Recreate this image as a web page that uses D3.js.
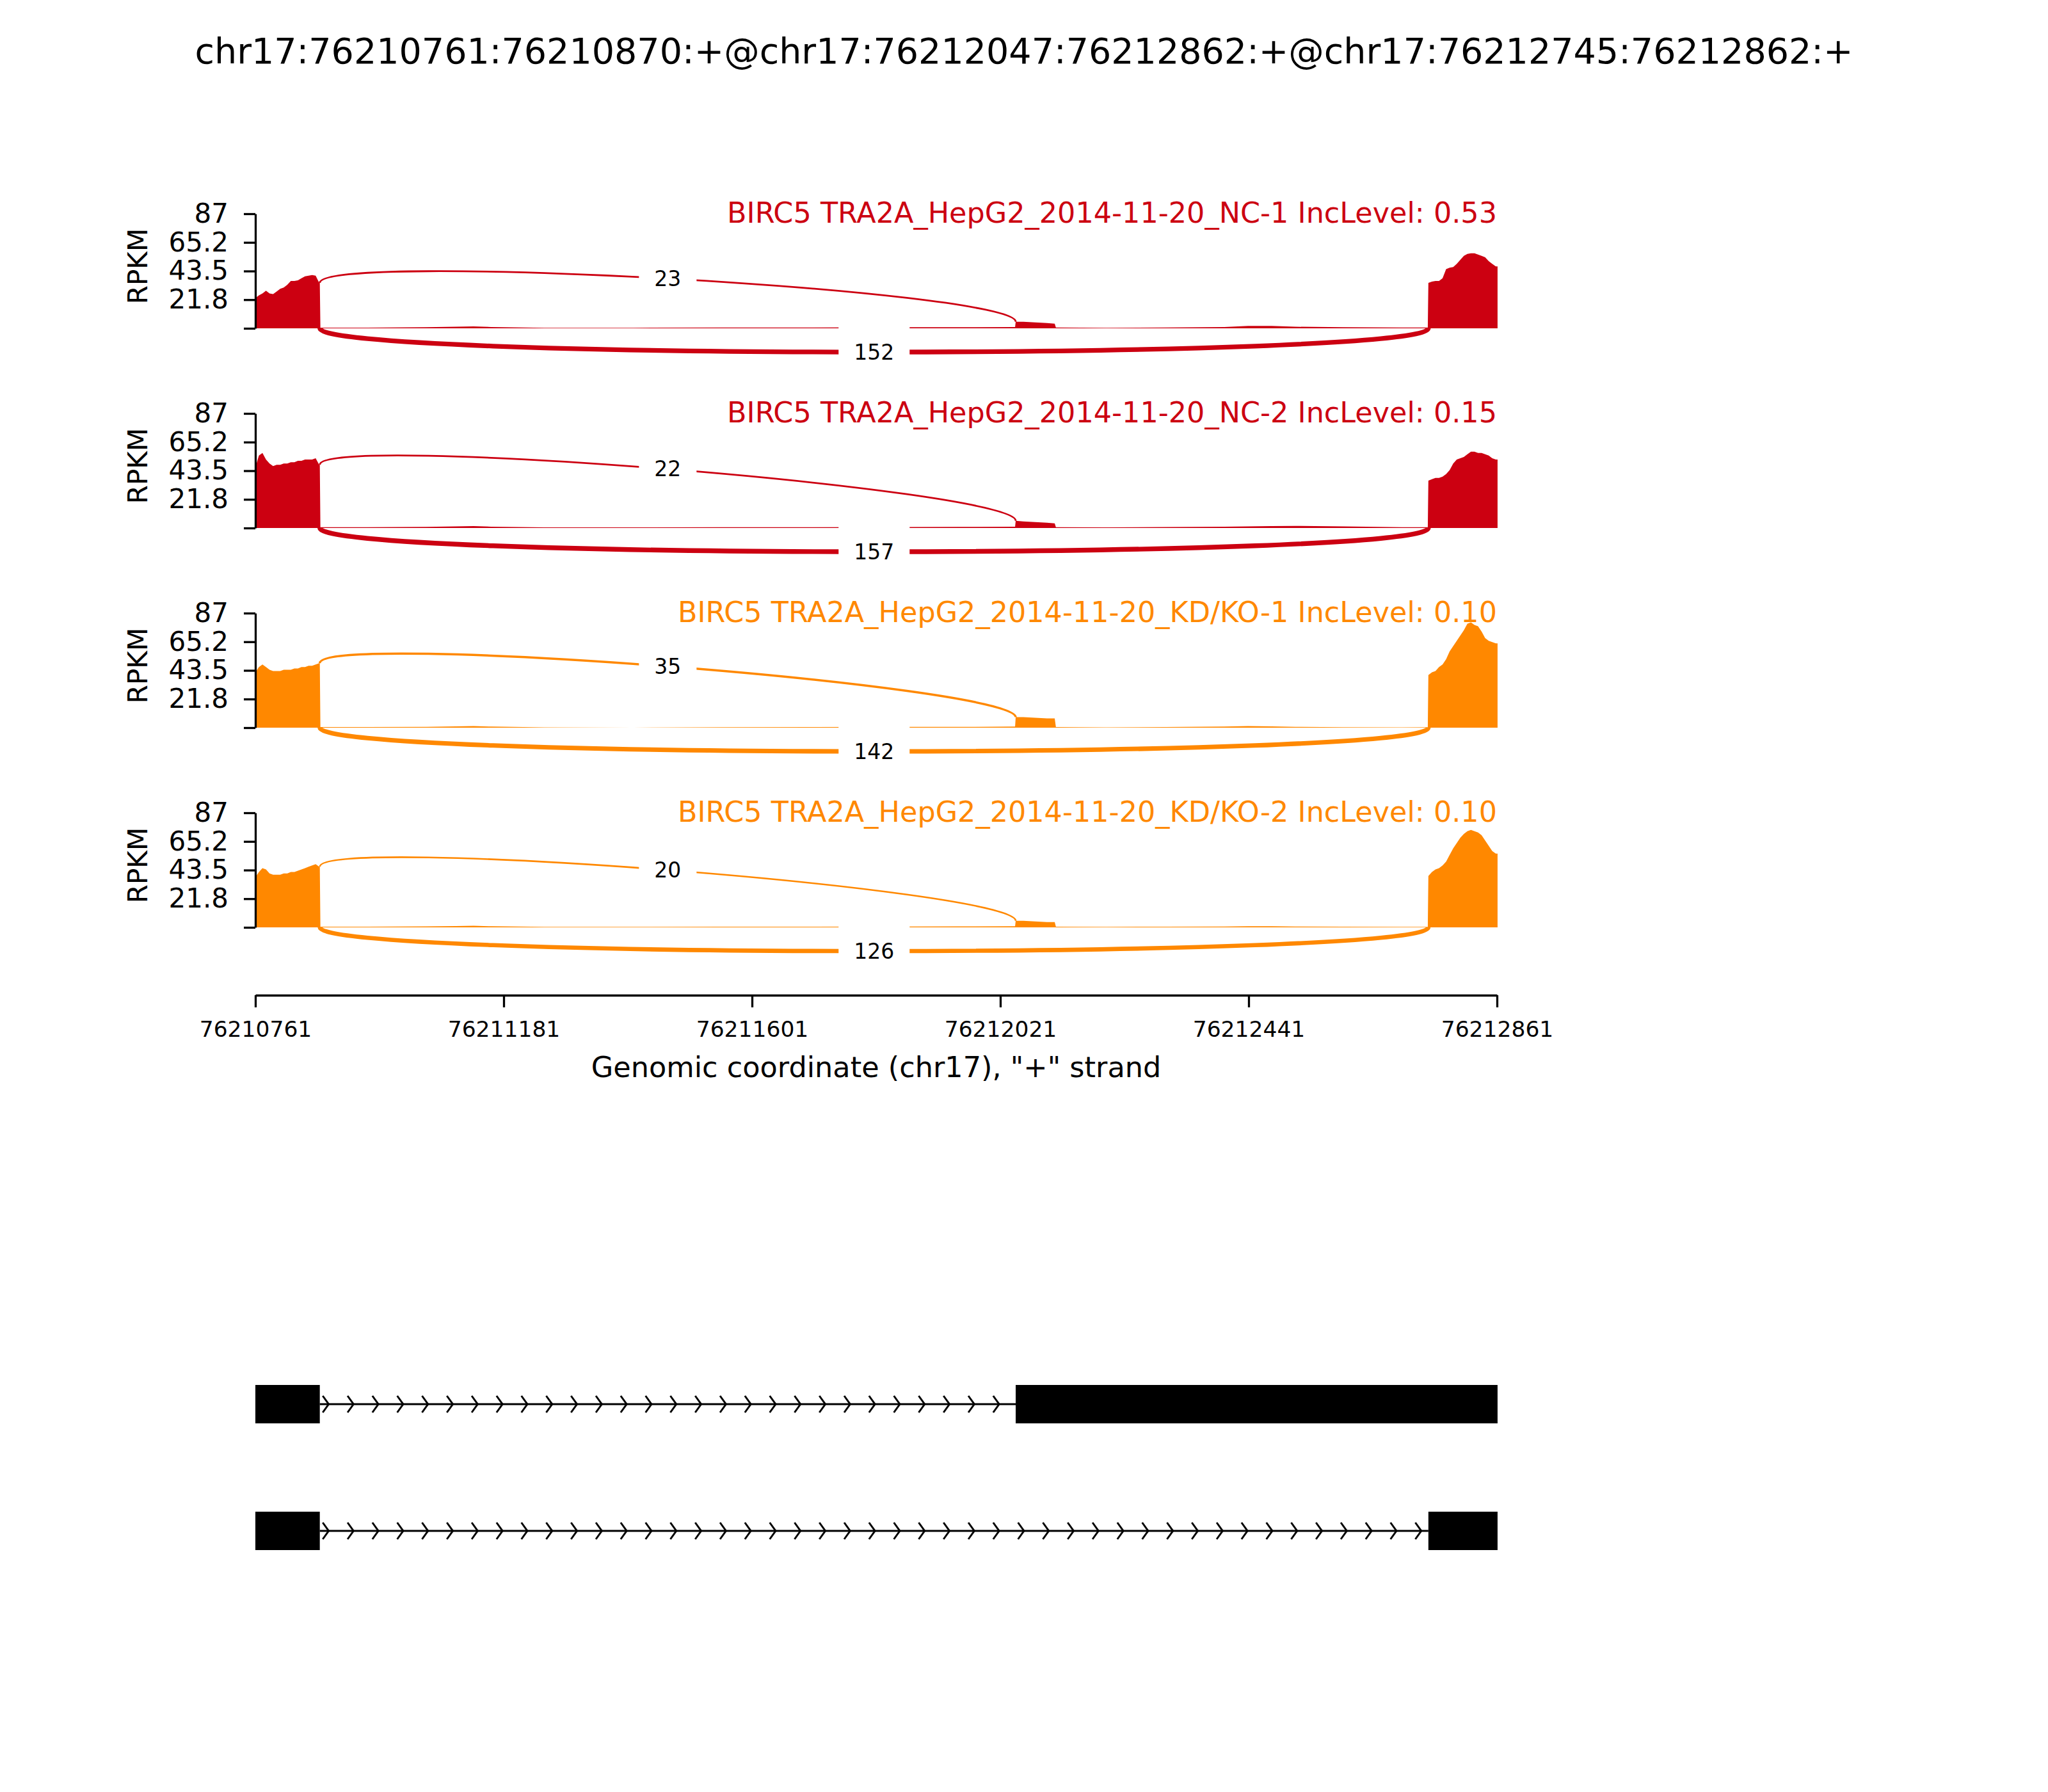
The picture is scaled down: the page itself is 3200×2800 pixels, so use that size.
<!DOCTYPE html>
<html>
<head>
<meta charset="utf-8">
<script src="https://cdn.jsdelivr.net/npm/d3@7"></script>
<style>
  body { margin: 0; background: #fff; }
  text { font-family: "DejaVu Sans", sans-serif; }
</style>
</head>
<body>
<svg id="chart"></svg>
<script>
// event title
const eventTitle = "chr17:76210761:76210870:+@chr17:76212047:76212862:+@chr17:76212745:76212862:+";

// samples
const sampleNames = [
  "BIRC5 TRA2A_HepG2_2014-11-20_NC-1",
  "BIRC5 TRA2A_HepG2_2014-11-20_NC-2",
  "BIRC5 TRA2A_HepG2_2014-11-20_KD/KO-1",
  "BIRC5 TRA2A_HepG2_2014-11-20_KD/KO-2"
];
const incLevels = ["0.53", "0.15", "0.10", "0.10"];
const sampleColors = ["#CC0011", "#CC0011", "#FF8800", "#FF8800"];

// axes
const xStart = 76210761, xEnd = 76212861;
const xTicks = [76210761, 76211181, 76211601, 76212021, 76212441, 76212861];
const yTicks = [0, 21.75, 43.5, 65.25, 87];
const yTickLabels = ["", "21.8", "43.5", "65.2", "87"];
const yMax = 87;

// splice sites
const exon1End = 76210870, exon2Start = 76212047, exon3Start = 76212745, exon3End = 76212862;

// junction read counts
const upperCounts = [23, 22, 35, 20];
const lowerCounts = [152, 157, 142, 126];

// coverage positions
const exon1Pos = d3.range(76210761, 76210871, 6);
const intron1Pos = [76210871, 76210950, 76211050, 76211100, 76211130, 76211160, 76211250, 76211400, 76211550, 76211700, 76211850, 76211950, 76212046];
const bumpPos = [76212047, 76212060, 76212080, 76212100, 76212113];
const intron2Pos = [76212115, 76212200, 76212300, 76212400, 76212440, 76212480, 76212520, 76212600, 76212700, 76212744];
const exon3Pos = d3.range(76212745, 76212863, 6);

// coverage (RPKM) per sample
const exon1Cov = [
  [23, 25, 26.5, 28.5, 26.5, 26, 28, 30, 31, 33, 36, 36, 36.5, 38, 39.5, 40, 40.5, 40, 34.5],
  [46, 55, 57, 52, 49, 47, 48, 48, 49, 49, 50, 50, 51, 51, 52, 52, 52, 53, 48],
  [42, 46, 48, 46, 44, 43, 43, 43, 44, 44, 44, 45, 45, 46, 46, 47, 47, 48, 49],
  [38, 42, 45, 44, 41, 40, 40, 40, 41, 41, 42, 42, 43, 44, 45, 46, 47, 48, 46]
];
const intron1Cov = [
  [0.5, 0.5, 0.8, 1.2, 1.5, 1.0, 0.4, 0.4, 0.6, 0.6, 0.8, 0.8, 1.0],
  [0.6, 0.6, 0.8, 1.2, 1.4, 1.0, 0.5, 0.5, 0.6, 0.6, 0.7, 0.8, 1.0],
  [0.5, 0.5, 0.6, 1.0, 1.2, 0.8, 0.3, 0, 0.4, 0.5, 0.6, 0.6, 0.8],
  [0.5, 0.5, 0.7, 1.0, 1.2, 0.8, 0.4, 0.4, 0.5, 0.5, 0.6, 0.7, 0.8]
];
const bumpCov = [
  [5, 5, 4.5, 4, 3.5],
  [5.5, 5, 4.5, 4, 3.5],
  [8, 8, 7.5, 7, 7],
  [5, 5, 4.5, 4, 4]
];
const intron2Cov = [
  [0.6, 0.4, 0.6, 1.0, 1.8, 1.8, 1.2, 0.8, 0.6, 0.6],
  [0.6, 0.5, 0.7, 1.0, 1.2, 1.4, 1.6, 1.2, 0.6, 0.6],
  [0.5, 0.3, 0.5, 0.8, 1.2, 1.0, 0.6, 0.4, 0.3, 0.4],
  [0.5, 0.4, 0.5, 0.6, 0.8, 0.8, 0.6, 0.5, 0.4, 0.4]
];
const exon3Cov = [
  [34.5, 35.5, 36, 36, 38, 45, 46, 46.5, 49, 52, 55, 56.5, 57, 57, 56, 55, 54, 51, 49, 47],
  [36, 37, 38, 38, 39, 41, 44, 49, 52, 53, 54, 56, 58, 58, 57, 57, 56, 55, 53, 52],
  [40, 42, 43, 46, 48, 52, 58, 62, 66, 70, 74, 79, 80, 78, 77, 73, 68, 66, 65, 64],
  [39, 42, 44, 45, 47, 50, 55, 60, 64, 68, 71, 73, 74, 73, 72, 70, 66, 62, 58, 56]
];

// transcripts (exon start, end)
const transcripts = [
  [[76210761, 76210870], [76212047, 76212862]],
  [[76210761, 76210870], [76212745, 76212862]]
];

//размеры
const W = 3200, H = 2800;
const panelTop0 = 334, panelStep = 312, panelH = 179;
const arcH = 24; //высота дуг в единицах RPKM

const svg = d3.select("#chart").attr("width", W).attr("height", H);
svg.append("rect").attr("width", W).attr("height", H).attr("fill", "#fff");

const x = d3.scaleLinear().domain([xStart, xEnd]).range([399, 2339]);

//заголовок
svg.append("text")
  .attr("x", 1600).attr("y", 99)
  .attr("text-anchor", "middle")
  .style("font-size", "55.5px")
  .text(eventTitle);

sampleNames.forEach((name, i) => {
  const top = panelTop0 + i * panelStep;
  const color = sampleColors[i];
  const y = d3.scaleLinear().domain([0, yMax]).range([top + panelH, top]);
  const g = svg.append("g");

  //покрытие
  const pts = [];
  exon1Pos.forEach((p, k) => pts.push([p, exon1Cov[i][k]]));
  pts.push([exon1End, exon1Cov[i][exon1Cov[i].length - 1]]);
  intron1Pos.forEach((p, k) => pts.push([p, intron1Cov[i][k]]));
  bumpPos.forEach((p, k) => pts.push([p, bumpCov[i][k]]));
  intron2Pos.forEach((p, k) => pts.push([p, intron2Cov[i][k]]));
  exon3Pos.forEach((p, k) => pts.push([p, exon3Cov[i][k]]));
  pts.push([exon3End, exon3Cov[i][exon3Cov[i].length - 1]]);

  const area = d3.area()
    .x(d => x(d[0]))
    .y0(y(0))
    .y1(d => y(d[1]));
  g.append("path").attr("d", area(pts)).attr("fill", color);

  //дуги
  const ss1 = x(exon1End), ss2 = x(exon2Start), ss3 = x(exon3Start);
  const left = exon1Cov[i][exon1Cov[i].length - 1];
  const right = bumpCov[i][0];
  const lw = d3.scaleSqrt().domain([0, 152]).range([0, 7.3]);

  const upPath = d3.path();
  upPath.moveTo(ss1, y(left));
  upPath.bezierCurveTo(ss1, y(left + arcH), ss2, y(right + arcH), ss2, y(right));
  g.append("path").attr("d", upPath.toString())
    .attr("fill", "none").attr("stroke", color).attr("stroke-width", lw(upperCounts[i]));

  const lowPath = d3.path();
  lowPath.moveTo(ss1, y(0));
  lowPath.bezierCurveTo(ss1, y(-arcH), ss3, y(-arcH), ss3, y(0));
  g.append("path").attr("d", lowPath.toString())
    .attr("fill", "none").attr("stroke", color).attr("stroke-width", lw(lowerCounts[i]));

  //подписи дуг
  const labels = [
    { x: (ss1 + ss2) / 2, y: y((left + right) / 2 + 0.75 * arcH), t: upperCounts[i] },
    { x: (ss1 + ss3) / 2, y: y(-0.75 * arcH), t: lowerCounts[i] }
  ];
  labels.forEach(l => {
    const lg = g.append("g");
    const rect = lg.append("rect").attr("fill", "#fff");
    const t = lg.append("text")
      .attr("x", l.x).attr("y", l.y)
      .attr("dy", "0.35em")
      .attr("text-anchor", "middle")
      .style("font-size", "33px")
      .text(l.t);
    const b = t.node().getBBox();
    rect.attr("x", b.x - 24).attr("y", l.y - 42)
      .attr("width", b.width + 48).attr("height", 84);
  });

  //ось y
  const yAxis = g.append("g")
    .attr("transform", "translate(399,0)")
    .call(d3.axisLeft(y).tickValues(yTicks)
      .tickFormat((d, k) => yTickLabels[k])
      .tickSize(18).tickSizeOuter(0).tickPadding(24));
  yAxis.select(".domain").attr("stroke-width", 3.3);
  yAxis.selectAll(".tick line").attr("stroke-width", 3.3);
  yAxis.selectAll("text").style("font-size", "42px").attr("fill", "#000");

  g.append("text")
    .attr("transform", `translate(230,${top + 82}) rotate(-90)`)
    .attr("text-anchor", "middle")
    .style("font-size", "42px")
    .text("RPKM");

  //название образца
  g.append("text")
    .attr("x", 2339).attr("y", top + 14)
    .attr("text-anchor", "end")
    .style("font-size", "44.5px")
    .attr("fill", color)
    .text(`${name} IncLevel: ${incLevels[i]}`);
});

//ось x
const xAxis = svg.append("g")
  .attr("transform", "translate(0,1555)")
  .call(d3.axisBottom(x).tickValues(xTicks)
    .tickFormat(d3.format("d"))
    .tickSize(19).tickSizeOuter(0).tickPadding(22));
xAxis.select(".domain").attr("stroke-width", 3.3);
xAxis.selectAll(".tick line").attr("stroke-width", 3.3);
xAxis.selectAll("text").style("font-size", "34.5px").attr("fill", "#000");

svg.append("text")
  .attr("x", 1369).attr("y", 1683)
  .attr("text-anchor", "middle")
  .style("font-size", "44.6px")
  .text('Genomic coordinate (chr17), "+" strand');

//транскрипты
const txY = [2194, 2392];
transcripts.forEach((tx, i) => {
  const c = txY[i];
  const g = svg.append("g");
  g.append("line")
    .attr("x1", x(tx[0][1])).attr("x2", x(tx[tx.length - 1][0]))
    .attr("y1", c).attr("y2", c)
    .attr("stroke", "#000").attr("stroke-width", 3);
  for (let j = 1; j < tx.length; j++) {
    const iStart = tx[j - 1][1], iEnd = tx[j][0];
    const tips = d3.range(iStart + 15, iEnd - 10, 42);
    tips.forEach(p => {
      const tx0 = x(p);
      g.append("path")
        .attr("d", `M${tx0 - 9.3},${c - 13}L${tx0},${c}L${tx0 - 9.3},${c + 13}`)
        .attr("fill", "none").attr("stroke", "#000").attr("stroke-width", 3);
    });
  }
  tx.forEach(e => {
    g.append("rect")
      .attr("x", x(e[0])).attr("width", x(e[1]) - x(e[0]))
      .attr("y", c - 30).attr("height", 60)
      .attr("fill", "#000");
  });
});
</script>
</body>
</html>
